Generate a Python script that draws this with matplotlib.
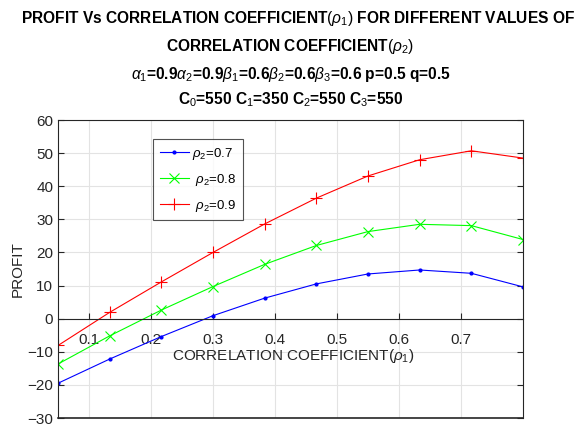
import numpy as np
import matplotlib
matplotlib.use('Agg')
import matplotlib.pyplot as plt

plt.rcParams['font.family'] = ['Liberation Sans', 'DejaVu Sans']
plt.rcParams['mathtext.fontset'] = 'custom'
plt.rcParams['mathtext.rm'] = 'Liberation Sans'
plt.rcParams['mathtext.it'] = 'Liberation Sans:italic'
plt.rcParams['mathtext.bf'] = 'Liberation Sans:bold'

# correlation coefficient rho1 and profit for each rho2
rho1 = [0.05, 0.1333, 0.2167, 0.3, 0.3833, 0.4667, 0.55, 0.6333, 0.7167, 0.8]
profit_07 = [-19.5, -12.2, -5.4, 0.9, 6.2, 10.5, 13.5, 14.7, 13.7, 9.6]
profit_08 = [-13.7, -5.2, 2.6, 9.7, 16.4, 22.1, 26.3, 28.5, 28.1, 23.9]
profit_09 = [-8.1, 1.9, 11.1, 20.0, 28.6, 36.4, 43.1, 48.0, 50.7, 48.5]
xticks = [0.1, 0.2, 0.3, 0.4, 0.5, 0.6, 0.7]
yticks = [-30, -20, -10, 0, 10, 20, 30, 40, 50, 60]

fig = plt.figure(figsize=(5.87, 4.26), dpi=100)
ax = fig.add_axes([58 / 587, 8 / 426, 465 / 587, 298 / 426])

ax.plot(rho1, profit_07, color='#0000ff', lw=0.8, marker='.', ms=4, label=r'$\rho_2$=0.7')
ax.plot(rho1, profit_08, color='#00ff00', lw=0.8, marker='x', ms=7, mew=0.8, label=r' $\rho_2$=0.8')
ax.plot(rho1, profit_09, color='#ff0000', lw=0.8, marker='+', ms=9, mew=0.8, label=r' $\rho_2$=0.9')

ax.set_xlim(0.05, 0.8)
ax.set_ylim(-30, 60)
ax.set_xticks(xticks)
ax.set_xticklabels([f'{t:g}' for t in xticks])
ax.set_yticks(yticks)
ax.grid(True, color='#e3e3e3', lw=0.8)
ax.set_axisbelow(True)

# x axis runs through zero, box kept around the plot
edge = '#262626'
ax.spines['bottom'].set_position(('data', 0))
for s in ax.spines.values():
    s.set_color(edge)
    s.set_linewidth(0.8)
ax.axhline(-30, color=edge, lw=1.2, clip_on=False, zorder=5)
ax.tick_params(axis='x', direction='in', length=4, width=0.8, colors=edge,
               labelsize=11, pad=10)
ax.tick_params(axis='y', direction='in', length=4, width=0.8, colors=edge,
               labelsize=11, right=True)

ax.text(0.43, -11.3, r'CORRELATION COEFFICIENT$(\rho_1)$', ha='center', va='center',
        fontsize=11, color=edge)
ax.set_ylabel('PROFIT', fontsize=11, color=edge, labelpad=2)

leg = ax.legend(loc='upper left', bbox_to_anchor=(0.205, 0.935), fontsize=9.5,
                fancybox=False, edgecolor=edge, handlelength=2.2,
                labelspacing=0.75, borderpad=0.5, handletextpad=0.2,
                borderaxespad=0)
leg.get_frame().set_linewidth(0.8)

tkw = dict(ha='center', va='center', fontsize=11.2, fontweight='bold')
fig.text(0.508, 1 - 18 / 426, r'PROFIT Vs CORRELATION COEFFICIENT$(\rho_1)$ FOR DIFFERENT VALUES OF', **tkw)
fig.text(0.495, 1 - 46 / 426, r'CORRELATION COEFFICIENT$(\rho_2)$', **tkw)
fig.text(0.495, 1 - 74 / 426,
         r'$\alpha_1$=0.9$\alpha_2$=0.9$\beta_1$=0.6$\beta_2$=0.6$\beta_3$=0.6 p=0.5 q=0.5', **tkw)
fig.text(0.495, 1 - 100 / 426, r'C$_0$=550 C$_1$=350 C$_2$=550 C$_3$=550', **tkw)

fig.savefig('out.png', dpi=100)
